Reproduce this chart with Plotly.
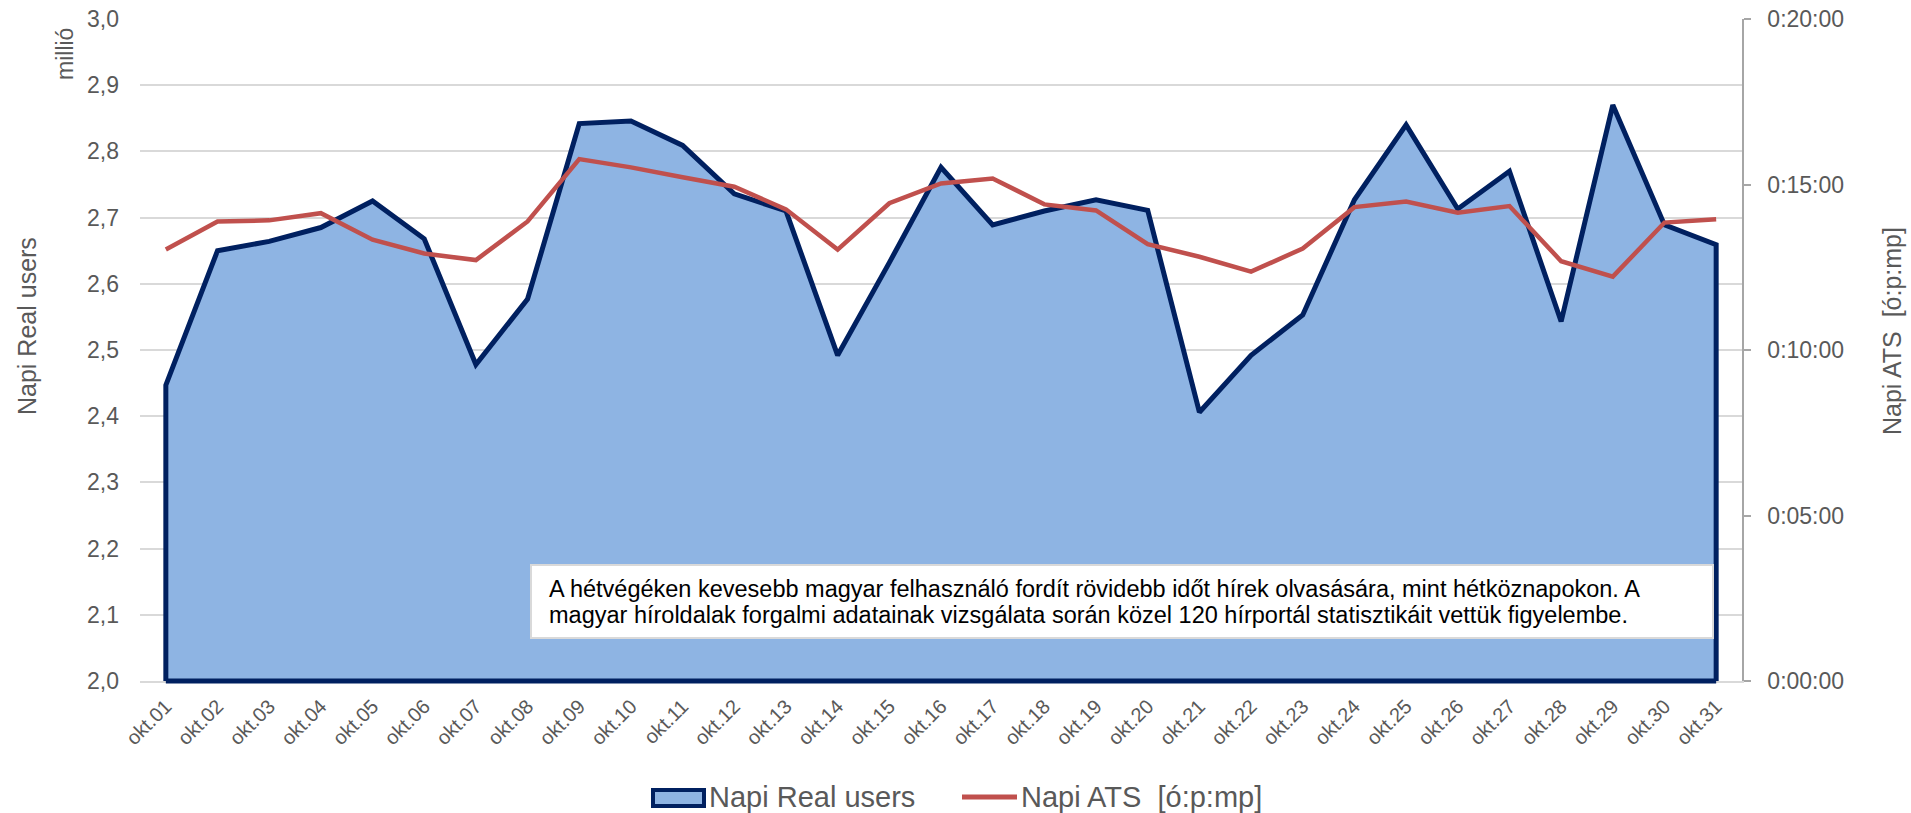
import plotly.graph_objects as go

# ---------------- data ----------------
days = ["okt.01", "okt.02", "okt.03", "okt.04", "okt.05", "okt.06", "okt.07", "okt.08",
        "okt.09", "okt.10", "okt.11", "okt.12", "okt.13", "okt.14", "okt.15", "okt.16",
        "okt.17", "okt.18", "okt.19", "okt.20", "okt.21", "okt.22", "okt.23", "okt.24",
        "okt.25", "okt.26", "okt.27", "okt.28", "okt.29", "okt.30", "okt.31"]

real_users_millions = [2.447, 2.650, 2.664, 2.685, 2.725, 2.668, 2.478, 2.577,
                       2.842, 2.846, 2.809, 2.736, 2.710, 2.492, 2.632, 2.776,
                       2.689, 2.710, 2.727, 2.711, 2.406, 2.492, 2.553, 2.727,
                       2.840, 2.713, 2.770, 2.543, 2.870, 2.689, 2.659]

ats_seconds = [782, 833, 835, 848, 800, 775, 763, 833,
               946, 931, 913, 896, 855, 782, 866, 902,
               911, 864, 853, 792, 769, 742, 784, 859,
               869, 849, 861, 761, 733, 831, 837]

users_axis_min = 2.0
users_axis_max = 3.0
users_tick_step = 0.1

ats_tickvals = [0, 300, 600, 900, 1200]
ats_ticktext = ["0:00:00", "0:05:00", "0:10:00", "0:15:00", "0:20:00"]

legend_users = "Napi Real users"
legend_ats = "Napi ATS  [ó:p:mp]"
left_title = "Napi Real users"
right_title = "Napi ATS  [ó:p:mp]"
unit_label = "millió"
note_lines = [
    "A hétvégéken kevesebb magyar felhasználó fordít rövidebb időt hírek olvasására, mint hétköznapokon. A",
    "magyar híroldalak forgalmi adatainak vizsgálata során közel 120 hírportál statisztikáit vettük figyelembe.",
]

# ---------------- layout geometry ----------------
W, H = 1911, 813
ML, MR, MT, MB = 140, 169, 19, 132
PW = W - ML - MR
PH = H - MT - MB


def px(x):
    return (x - ML) / PW


def py(y):
    return (H - MB - y) / PH


FONT = "Liberation Sans, Arial, sans-serif"
GRAY = "#595959"
AREA_FILL = "#8EB4E3"
AREA_LINE = "#002060"
ATS_COLOR = "#C0504D"

fig = go.Figure()

# Area (closed polygon so the border wraps the whole area, like Excel)
fig.add_trace(go.Scatter(
    x=[days[0]] + days + [days[-1]],
    y=[users_axis_min] + real_users_millions + [users_axis_min],
    mode="lines",
    fill="toself",
    fillcolor=AREA_FILL,
    line=dict(color=AREA_LINE, width=5),
    name=legend_users,
    yaxis="y",
    showlegend=False,
    hoverinfo="skip",
))

fig.add_trace(go.Scatter(
    x=days,
    y=ats_seconds,
    mode="lines",
    line=dict(color=ATS_COLOR, width=4.5),
    name=legend_ats,
    yaxis="y2",
    showlegend=False,
))

# bottom border of the area (along the axis baseline)
fig.add_shape(type="line", xref="x", yref="paper",
              x0=days[0], x1=days[-1], y0=0, y1=0,
              line=dict(color=AREA_LINE, width=5), layer="above")

# note box
fig.add_shape(type="rect", xref="paper", yref="paper",
              x0=px(531), x1=px(1713), y0=py(638), y1=py(565),
              fillcolor="white", line=dict(color="#D9D9D9", width=2), layer="above")
for line, yy in zip(note_lines, [589, 615]):
    fig.add_annotation(xref="paper", yref="paper", x=px(547), y=py(yy),
                       xanchor="left", yanchor="middle", showarrow=False,
                       text=line, font=dict(family=FONT, size=23.5, color="black"))

# axis titles
fig.add_annotation(xref="paper", yref="paper", x=px(27), y=py(326), textangle=-90,
                   xanchor="center", yanchor="middle",
                   showarrow=False, text=left_title,
                   font=dict(family=FONT, size=25, color=GRAY))
fig.add_annotation(xref="paper", yref="paper", x=px(1892), y=py(331), textangle=-90,
                   xanchor="center", yanchor="middle",
                   showarrow=False, text=right_title,
                   font=dict(family=FONT, size=25, color=GRAY))
fig.add_annotation(xref="paper", yref="paper", x=px(65), y=py(54), textangle=-90,
                   xanchor="center", yanchor="middle",
                   showarrow=False, text=unit_label,
                   font=dict(family=FONT, size=23, color=GRAY))

# custom legend (Excel-style icons)
fig.add_shape(type="rect", xref="paper", yref="paper",
              x0=px(653), x1=px(704), y0=py(806), y1=py(790),
              fillcolor=AREA_FILL, line=dict(color=AREA_LINE, width=4))
fig.add_shape(type="line", xref="paper", yref="paper",
              x0=px(962), x1=px(1017), y0=py(797), y1=py(797),
              line=dict(color=ATS_COLOR, width=5))
fig.add_annotation(xref="paper", yref="paper", x=px(707), y=py(797),
                   xanchor="left", yanchor="middle", showarrow=False,
                   text=legend_users, font=dict(family=FONT, size=29, color=GRAY))
fig.add_annotation(xref="paper", yref="paper", x=px(1019), y=py(797),
                   xanchor="left", yanchor="middle", showarrow=False,
                   text=legend_ats, font=dict(family=FONT, size=29, color=GRAY))

fig.update_layout(
    width=W, height=H,
    margin=dict(l=ML, r=MR, t=MT, b=MB, autoexpand=False),
    paper_bgcolor="white", plot_bgcolor="white",
    separators=", ",
    font=dict(family=FONT, color=GRAY),
    showlegend=False,
    xaxis=dict(type="category", range=[-0.5, len(days) - 0.5], tickangle=-45,
               showgrid=False, showline=True, linecolor="#D9D9D9", linewidth=1.5,
               layer="below traces",
               ticks="", tickfont=dict(family=FONT, size=20, color=GRAY),
               ticklabelstandoff=4),
    yaxis=dict(range=[users_axis_min, users_axis_max], dtick=users_tick_step, tickformat=".1f",
               showgrid=True, gridcolor="#D9D9D9", gridwidth=1.5, zeroline=False,
               showline=False, ticks="", tickfont=dict(family=FONT, size=23, color=GRAY),
               ticklabelstandoff=20),
    yaxis2=dict(range=[ats_tickvals[0], ats_tickvals[-1]], tickvals=ats_tickvals,
                ticktext=ats_ticktext, overlaying="y", side="right",
                showgrid=False, zeroline=False, showline=True, linecolor="#A6A6A6",
                linewidth=1.5, ticks="outside", ticklen=7, tickcolor="#A6A6A6",
                tickwidth=1.5, tickfont=dict(family=FONT, size=23, color=GRAY),
                ticklabelstandoff=12),
)

fig.write_html("out.html", config={"displayModeBar": False},
               post_script="document.body.style.margin='0px';")
